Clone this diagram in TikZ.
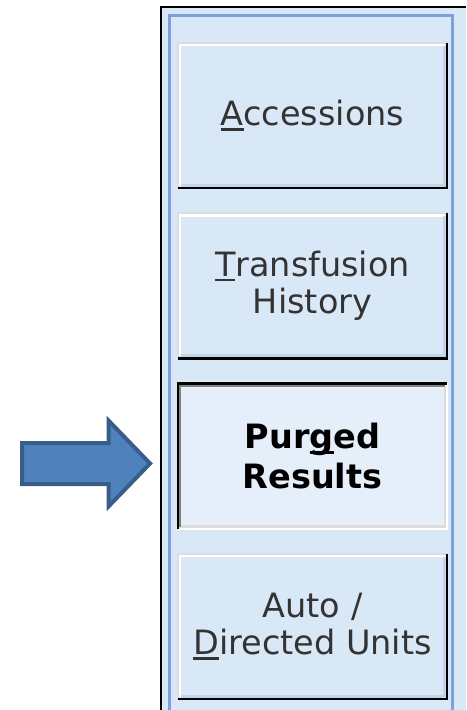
\documentclass[tikz,border=0pt]{standalone}
\usepackage{fontspec}
\setmainfont{DejaVu Sans}
\usetikzlibrary{positioning}

\definecolor{panelblue}{HTML}{D9E8F6}
\definecolor{rimblue}{HTML}{7CA3D9}
\definecolor{pressfill}{HTML}{E4EFFA}
\definecolor{bevelgrey}{HTML}{DCDCDC}
\definecolor{bevelshade}{HTML}{C3D5EB}
\definecolor{pressgrey}{HTML}{808080}
\definecolor{labelink}{HTML}{333333}
\definecolor{arrowfill}{HTML}{4F81BD}
\definecolor{arrowline}{HTML}{385D8A}

\newsavebox\mnbox
\newcommand\mn[1]{\sbox\mnbox{#1}\rlap{\rule[-.15em]{\wd\mnbox}{.075em}}\usebox\mnbox}

\begin{document}
\begin{tikzpicture}[x=0.5pt,y=-0.5pt,
    button/.style={minimum width=135.5pt,minimum height=73.5pt,inner sep=0pt,
      fill=panelblue,text=labelink,align=center,
      font=\fontsize{16.75}{18.75}\selectfont},
    pressed/.style={button,fill=pressfill,text=black,
      font=\fontsize{16.75}{20}\selectfont\bfseries},
    bevel/.style={line width=1.25pt}]
  \useasboundingbox (0,0) rectangle (466,710);

  % panel
  \fill[panelblue] (161,7) rectangle (466,710);
  \draw[line width=1pt] (161,710) |- (466,7);
  \draw[rimblue,line width=1.5pt] (169.5,710) |- (452.5,15.5) -- (452.5,710);

  % buttons
  \node[button] (acc) at (312.5,115.5) {\mn{A}ccessions};
  \node[button,below=11.25pt of acc] (trans) {\mn{T}ransfusion\\History};
  \node[pressed,below=11.25pt of trans] (purge) {Pur\mn{g}ed\\Results};
  \node[button,below=11.25pt of purge] (auto) {Auto /\\\mn{D}irected Units};

  \foreach \b in {acc,trans,auto} {
    \draw[bevel,bevelgrey] ([shift={(1.25,-1.25)}]\b.south west) |- ([shift={(-1.25,1.25)}]\b.north east);
    \draw[bevel,white] ([shift={(3.5,-3.5)}]\b.south west) |- ([shift={(-3.5,3.5)}]\b.north east);
    \draw[bevel,bevelshade] ([shift={(4,-4)}]\b.south west) -| ([shift={(-4,4)}]\b.north east);
    \draw[bevel,black] ([shift={(1.25,-1.25)}]\b.south west) -| ([shift={(-1.25,1.25)}]\b.north east);
  }

  % pressed button
  \draw[bevel,white] ([shift={(1.25,-1.25)}]purge.south west) -| ([shift={(-1.25,1.25)}]purge.north east);
  \draw[bevel,bevelgrey] ([shift={(3.5,-3.5)}]purge.south west) -| ([shift={(-3.5,3.5)}]purge.north east);
  \draw[bevel,pressgrey] ([shift={(3.5,-3.5)}]purge.south west) |- ([shift={(-3.5,3.5)}]purge.north east);
  \draw[bevel,black] ([shift={(1.25,-1.25)}]purge.south west) |- ([shift={(-1.25,1.25)}]purge.north east);

  % pointer
  \filldraw[fill=arrowfill,draw=arrowline,line width=2pt,miter limit=4]
    (22,443) -- (108.5,443) -- (108.5,420.5) -- (150,463.5)
    -- (108.5,506.5) -- (108.5,484) -- (22,484) -- cycle;
\end{tikzpicture}
\end{document}
